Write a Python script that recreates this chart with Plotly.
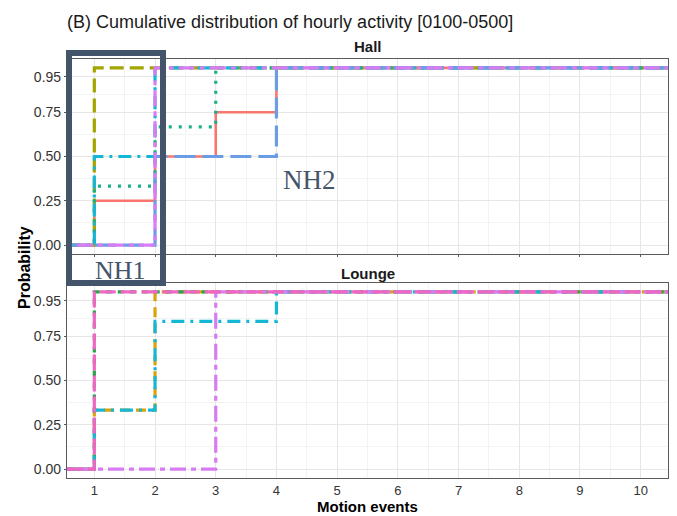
import plotly.graph_objects as go

W, H = 677, 516

# ---- data ----
x_ticks = [1, 2, 3, 4, 5, 6, 7, 8, 9, 10]
y_ticks = [0.0, 0.25, 0.5, 0.75, 0.95]
y_tick_labels = ["0.00", "0.25", "0.50", "0.75", "0.95"]
x_range = [0.55, 10.45]
y_range = [-0.05, 1.05]

# Hall (ECDF jump points: motion events, cumulative probability)
hall_red_x = [1, 2, 3, 4]
hall_red_y = [0.25, 0.5, 0.75, 1.0]
hall_olive_x = [1]
hall_olive_y = [1.0]
hall_teal_x = [1, 2, 3]
hall_teal_y = [0.333, 0.667, 1.0]
hall_cyan_x = [1, 2]
hall_cyan_y = [0.5, 1.0]
hall_blue_x = [2, 4]
hall_blue_y = [0.5, 1.0]
hall_purple_x = [2]
hall_purple_y = [1.0]

# Lounge
lounge_gold_x = [1, 2]
lounge_gold_y = [0.333, 1.0]
lounge_green_x = [1]
lounge_green_y = [1.0]
lounge_cyan_x = [1, 2, 4]
lounge_cyan_y = [0.333, 0.833, 1.0]
lounge_purple_x = [3]
lounge_purple_y = [1.0]
lounge_pink_x = [1]
lounge_pink_y = [1.0]

hall_series = [
    (hall_red_x, hall_red_y, "#F8766D", "solid", 2.6),
    (hall_olive_x, hall_olive_y, "#A3A500", "14px,6px", 3.2),
    (hall_teal_x, hall_teal_y, "#1AAF8B", "3px,7px", 3.2),
    (hall_cyan_x, hall_cyan_y, "#14B8D6", "13px,6px,3px,6px", 3.2),
    (hall_blue_x, hall_blue_y, "#6A9DE6", "21px,7px", 3.2),
    (hall_purple_x, hall_purple_y, "#D77CF2", "5px,5px,16px,5px", 3.2),
]
lounge_series = [
    (lounge_gold_x, lounge_gold_y, "#DBA20A", "10px,6px", 3.2),
    (lounge_green_x, lounge_green_y, "#27A349", "6px,6px", 3.2),
    (lounge_cyan_x, lounge_cyan_y, "#14B8D6", "13px,6px,3px,6px", 3.2),
    (lounge_purple_x, lounge_purple_y, "#D77CF2", "5px,5px,16px,5px", 3.2),
    (lounge_pink_x, lounge_pink_y, "#F066C4", "16px,5px", 3.2),
]

fig = go.Figure()


def add_ecdf(xs, ys, color, dash, width, xa, ya):
    px = [x_range[0]] + list(xs) + [x_range[1]]
    py = [0.0] + list(ys) + [ys[-1]]
    fig.add_trace(go.Scatter(
        x=px, y=py, mode="lines", line_shape="hv",
        line=dict(color=color, dash=dash, width=width),
        xaxis=xa, yaxis=ya, showlegend=False, hoverinfo="skip"))


for s in hall_series:
    add_ecdf(*s, "x", "y")
for s in lounge_series:
    add_ecdf(*s, "x2", "y2")

# ---- layout geometry (pixels) ----
PX0, PX1 = 67, 668
TOP0, TOP1 = 59, 254
BOT0, BOT1 = 283, 478


def fx(px):
    return px / W


def fy(py):
    return 1 - py / H


font_fam = "Liberation Sans, Arial, sans-serif"
axis_common = dict(
    showline=True, linecolor="#5A5A5A", linewidth=1.2, mirror=True,
    showgrid=True, gridcolor="#E6E6E6", gridwidth=1,
    zeroline=False, ticks="outside", ticklen=2, tickcolor="#5A5A5A",
    tickfont=dict(family=font_fam, size=14, color="#333333"),
)

xaxis_common = dict(axis_common, range=x_range, tickmode="array", tickvals=x_ticks,
                    ticktext=[str(v) for v in x_ticks],
                    minor=dict(showgrid=True, gridcolor="#F3F3F3", gridwidth=0.8,
                               tickvals=[v + 0.5 for v in x_ticks[:-1]]))
yaxis_common = dict(axis_common, range=y_range, tickmode="array", tickvals=y_ticks,
                    ticktext=y_tick_labels,
                    minor=dict(showgrid=True, gridcolor="#F3F3F3", gridwidth=0.8,
                               tickvals=[0.125, 0.375, 0.625, 0.85]))

fig.update_layout(
    width=W, height=H,
    margin=dict(l=0, r=0, t=0, b=0),
    paper_bgcolor="white", plot_bgcolor="white",
    xaxis=dict(xaxis_common, domain=[fx(PX0), fx(PX1)], anchor="y", showticklabels=False),
    yaxis=dict(yaxis_common, domain=[fy(TOP1), fy(TOP0)], anchor="x"),
    xaxis2=dict(xaxis_common, domain=[fx(PX0), fx(PX1)], anchor="y2", ticklen=0,
                ticklabelstandoff=0, tickfont=dict(family=font_fam, size=13, color="#333333")),
    yaxis2=dict(yaxis_common, domain=[fy(BOT1), fy(BOT0)], anchor="x2"),
)

cx = fx((PX0 + PX1) / 2)
annotations = [
    dict(text="(B) Cumulative distribution of hourly activity [0100-0500]",
         x=fx(65), y=fy(22), xanchor="left", yanchor="middle",
         font=dict(family=font_fam, size=18, color="#1A1A1A")),
    dict(text="<b>Hall</b>", x=cx, y=fy(47), xanchor="center", yanchor="middle",
         font=dict(family=font_fam, size=15, color="#1A1A1A")),
    dict(text="<b>Lounge</b>", x=cx, y=fy(273), xanchor="center", yanchor="middle",
         font=dict(family=font_fam, size=15, color="#1A1A1A")),
    dict(text="<b>Motion events</b>", x=cx, y=0, xanchor="center", yanchor="bottom",
         borderpad=0, font=dict(family=font_fam, size=15, color="#000000")),
    dict(text="<b>Probability</b>", x=fx(24), y=fy(268), xanchor="center", yanchor="middle",
         textangle=-90, font=dict(family=font_fam, size=16, color="#000000")),
    dict(text="NH1", x=fx(120), y=fy(270), xanchor="center", yanchor="middle",
         font=dict(family="Liberation Serif, Times New Roman, serif", size=26, color="#44546A")),
    dict(text="NH2", x=fx(309), y=fy(180), xanchor="center", yanchor="middle",
         font=dict(family="Liberation Serif, Times New Roman, serif", size=27, color="#44546A")),
]
for a in annotations:
    a.update(xref="paper", yref="paper", showarrow=False)
fig.update_layout(annotations=annotations)

fig.add_shape(type="rect", xref="paper", yref="paper",
              x0=fx(69), x1=fx(163), y0=fy(283), y1=fy(53),
              line=dict(color="#44546A", width=6), fillcolor="rgba(0,0,0,0)", layer="above")

fig.write_html("out.html")
